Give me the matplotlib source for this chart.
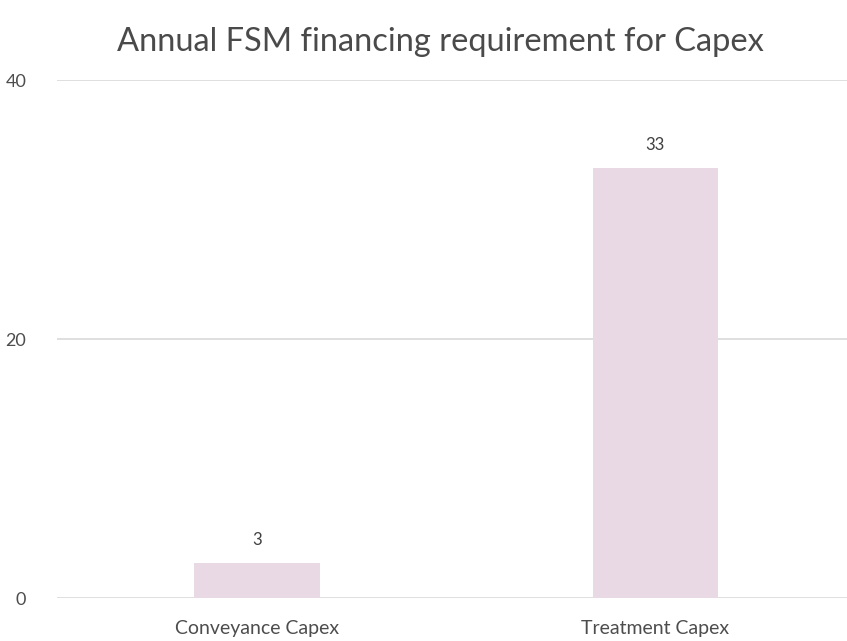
import matplotlib.pyplot as plt

categories = ["Conveyance Capex", "Treatment Capex"]
values = [2.7, 33.2]
yticks = [0, 20, 40]

plt.rcParams['font.family'] = ['Lato', 'DejaVu Sans']

fig = plt.figure(figsize=(8.47, 6.41), dpi=100)
ax = fig.add_axes([0.067, 0.067, 0.933, 0.808])

x = list(range(len(categories)))
bars = ax.bar(x, values, width=0.314, color="#e8d9e4", zorder=2)
for b, v in zip(bars, values):
    ax.text(b.get_x() + b.get_width() / 2, v + 1.2, f"{v:.0f}",
            ha="center", va="bottom", fontsize=12, color="#404040")

ax.set_xlim(-0.503, 1.482)
ax.set_ylim(0, 40)
ax.set_yticks(yticks)
ax.set_yticklabels([str(t) for t in yticks])
ax.set_xticks(x)
ax.set_xticklabels(categories, fontsize=14)
ax.tick_params(axis="both", length=0, labelsize=13, colors="#4d4d4d")
ax.tick_params(axis="x", labelsize=14, pad=16)
ax.tick_params(axis="y", pad=22)
ax.grid(axis="y", color="#d9d9d9", linewidth=1.2, zorder=0)
for s in ax.spines.values():
    s.set_visible(False)

fig.suptitle("Annual FSM financing requirement for Capex", x=0.52, y=0.958,
             fontsize=23.5, color="#4a4a4a")

fig.savefig("out.png", dpi=100)
